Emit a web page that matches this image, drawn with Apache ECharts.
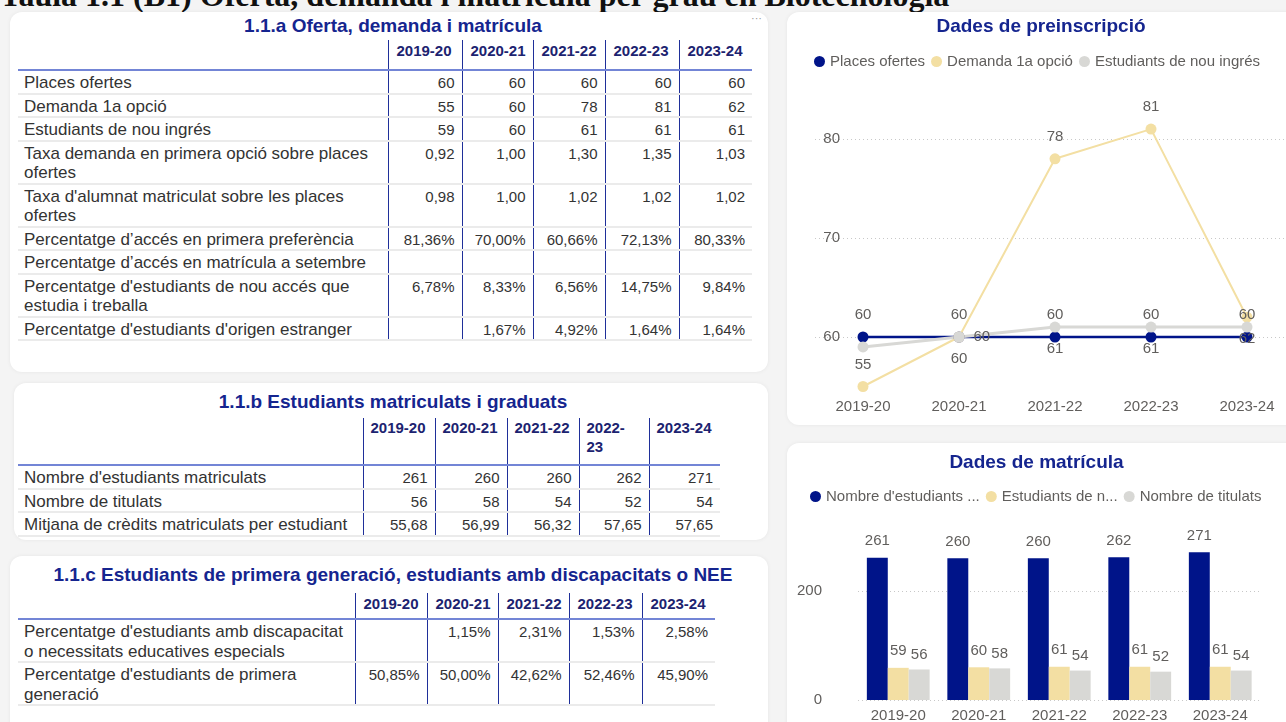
<!DOCTYPE html>
<html>
<head>
<meta charset="utf-8">
<script src="https://cdn.jsdelivr.net/npm/echarts@6/dist/echarts.min.js"></script>
<style>
  body { margin:0; width:1286px; height:722px; overflow:hidden; background:#f4f4f4; position:relative; font-family:'Liberation Sans', Arial, sans-serif; }
  .heading { position:absolute; left:0; top:-21px; font-family:'Liberation Serif', serif; font-weight:bold; font-size:32px; line-height:32px; color:#111; white-space:nowrap; }
  .panel { position:absolute; background:#fff; border-radius:12px; box-shadow:0 0 4px rgba(0,0,0,0.06); }
  .ttl { position:absolute; left:18px; width:750px; text-align:center; font-weight:bold; font-size:19px; line-height:22px; color:#15258f; }
  .dots { position:absolute; left:751px; top:12px; font-size:11px; color:#999; }
  table { position:absolute; border-collapse:collapse; table-layout:fixed; color:#333; }
  th { font-size:15px; font-weight:bold; color:#1c2370; text-align:left; vertical-align:top; line-height:19px; border-bottom:2px solid #7385d6; white-space:nowrap; }
  td { font-size:15px; line-height:19.5px; padding:2px 7px 0 6px; vertical-align:top; text-align:right; border-bottom:2px solid #ebebeb; white-space:nowrap; }
  td.lbl { font-size:17px; text-align:left; white-space:normal; }
  th + th, td + td { border-left:1px solid #1f2f99; }
  #lineChart, #barChart { position:absolute; }
</style>
</head>
<body>
<div class="heading">Taula 1.1 (B1) Oferta, demanda i matrícula per grau en Biotecnologia</div>

<div class="panel" style="left:10px;top:12px;width:758px;height:360px"></div>
<div class="panel" style="left:14px;top:383px;width:754px;height:157px"></div>
<div class="panel" style="left:10px;top:556px;width:758px;height:180px"></div>
<div class="panel" style="left:787px;top:12px;width:520px;height:413px"></div>
<div class="panel" style="left:787px;top:443px;width:520px;height:300px"></div>

<div class="ttl" style="top:15px">1.1.a Oferta, demanda i matrícula</div>
<div class="dots">&middot;&middot;&middot;</div>
<div class="ttl" style="top:391px">1.1.b Estudiants matriculats i graduats</div>
<div class="ttl" style="top:564px">1.1.c Estudiants de primera generació, estudiants amb discapacitats o NEE</div>

<div id="tables"></div>
<div id="lineChart" style="left:787px;top:12px;width:508px;height:413px"></div>
<div id="barChart" style="left:787px;top:443px;width:499px;height:279px"></div>

<script>
// dades
const years = ['2019-20', '2020-21', '2021-22', '2022-23', '2023-24'];

const placesOfertes = [60, 60, 60, 60, 60];
const demanda1a = [55, 60, 78, 81, 62];
const nouIngres = [59, 60, 61, 61, 61];
const taxaDemanda = ['0,92', '1,00', '1,30', '1,35', '1,03'];
const taxaMatriculat = ['0,98', '1,00', '1,02', '1,02', '1,02'];
const accesPrimera = ['81,36%', '70,00%', '60,66%', '72,13%', '80,33%'];
const accesSetembre = ['', '', '', '', ''];
const estudiaTreballa = ['6,78%', '8,33%', '6,56%', '14,75%', '9,84%'];
const origenEstranger = ['', '1,67%', '4,92%', '1,64%', '1,64%'];

const matriculats = [261, 260, 260, 262, 271];
const titulats = [56, 58, 54, 52, 54];
const mitjanaCredits = ['55,68', '56,99', '56,32', '57,65', '57,65'];

const discapacitat = ['', '1,15%', '2,31%', '1,53%', '2,58%'];
const primeraGeneracio = ['50,85%', '50,00%', '42,62%', '52,46%', '45,90%'];

const lineTicks = [60, 70, 80];
const barTicks = [0, 200];

// taules
function tableHtml(left, top, widths, headPad, wrapCol, rows) {
  let h = '<table style="left:' + left + 'px;top:' + top + 'px;width:' + widths.reduce((a, b) => a + b, 0) + 'px">';
  h += '<colgroup>' + widths.map(w => '<col style="width:' + w + 'px">').join('') + '</colgroup>';
  h += '<tr><th style="padding:' + headPad + '"></th>' + years.map((y, i) =>
    '<th style="padding:' + headPad + '">' + (i === wrapCol ? y.replace('-', '-<br>') : y) + '</th>').join('') + '</tr>';
  rows.forEach(r => {
    h += '<tr><td class="lbl">' + r[0] + '</td>' + r[1].map(v => '<td>' + v + '</td>').join('') + '</tr>';
  });
  return h + '</table>';
}

document.getElementById('tables').innerHTML =
  tableHtml(18, 40, [370, 74, 71, 72, 74, 73], '1px 2px 9px 8px', -1, [
    ['Places ofertes', placesOfertes],
    ['Demanda 1a opció', demanda1a],
    ['Estudiants de nou ingrés', nouIngres],
    ['Taxa demanda en primera opció sobre places ofertes', taxaDemanda],
    ["Taxa d'alumnat matriculat sobre les places ofertes", taxaMatriculat],
    ['Percentatge d’accés en primera preferència', accesPrimera],
    ['Percentatge d’accés en matrícula a setembre', accesSetembre],
    ["Percentatge d'estudiants de nou accés que estudia i treballa", estudiaTreballa],
    ["Percentatge d'estudiants d'origen estranger", origenEstranger]
  ]) +
  tableHtml(18, 418, [345, 72, 72, 72, 70, 71], '0 2px 8px 7px', 3, [
    ["Nombre d'estudiants matriculats", matriculats],
    ['Nombre de titulats', titulats],
    ['Mitjana de crèdits matriculats per estudiant', mitjanaCredits]
  ]) +
  tableHtml(18, 593, [337, 72, 71, 71, 73, 73], '1px 2px 5px 8px', -1, [
    ["Percentatge d'estudiants amb discapacitat o necessitats educatives especials", discapacitat],
    ["Percentatge d'estudiants de primera generació", primeraGeneracio]
  ]);

// gràfics
const navy = '#001489';
const yellow = '#f3dfa3';
const grey = '#d8d8d5';
const labelGrey = '#605e5c';
const titleColor = '#15258f';

const demandaLabelPos = ['top', 'right', 'top', 'top', 'bottom'];
const nouLabelShow = [false, true, true, true, false];

const lineChart = echarts.init(document.getElementById('lineChart'));
lineChart.setOption({
  textStyle: { fontFamily: 'Liberation Sans' },
  title: {
    text: 'Dades de preinscripció', left: 'center', top: 0,
    textStyle: { color: titleColor, fontSize: 19, fontWeight: 'bold' }
  },
  legend: {
    left: 22, top: 37, icon: 'circle', itemWidth: 11, itemHeight: 11, itemGap: 6,
    textStyle: { color: labelGrey, fontSize: 15 }
  },
  grid: { left: 28, right: 0, top: 97.3, bottom: 28.6, outerBoundsMode: 'none' },
  xAxis: {
    type: 'category', data: years, boundaryGap: true,
    axisLine: { show: false }, axisTick: { show: false },
    axisLabel: { color: labelGrey, fontSize: 15, margin: 3 }
  },
  yAxis: {
    type: 'value', min: 54, max: 83, offset: -33,
    axisLine: { show: false },
    axisTick: { show: false, customValues: lineTicks },
    axisLabel: { color: labelGrey, fontSize: 15, margin: 8, customValues: lineTicks },
    splitLine: { lineStyle: { color: '#c8c8c8', type: [1, 3] } }
  },
  series: [
    {
      name: 'Places ofertes', type: 'line', data: placesOfertes, color: navy,
      symbol: 'circle', symbolSize: 11, lineStyle: { width: 2.5 },
      label: { show: true, position: 'top', distance: 9, color: labelGrey, fontSize: 15 }
    },
    {
      name: 'Demanda 1a opció', type: 'line', color: yellow,
      data: demanda1a.map((v, i) => ({ value: v, label: { position: demandaLabelPos[i] } })),
      symbol: 'circle', symbolSize: 11, lineStyle: { width: 2 },
      label: { show: true, distance: 9, color: labelGrey, fontSize: 15 }
    },
    {
      name: 'Estudiants de nou ingrés', type: 'line', color: grey,
      data: nouIngres.map((v, i) => ({ value: v, label: { show: nouLabelShow[i] } })),
      symbol: 'circle', symbolSize: 11, lineStyle: { width: 3 },
      label: { show: true, position: 'bottom', distance: 9, color: labelGrey, fontSize: 15 }
    }
  ]
});

const barChart = echarts.init(document.getElementById('barChart'));
barChart.setOption({
  textStyle: { fontFamily: 'Liberation Sans' },
  title: {
    text: 'Dades de matrícula', left: 'center', top: 5,
    textStyle: { color: titleColor, fontSize: 19, fontWeight: 'bold' }
  },
  legend: {
    left: 18, top: 41, icon: 'circle', itemWidth: 11, itemHeight: 11, itemGap: 6,
    textStyle: { color: labelGrey, fontSize: 15 },
    data: [
      { name: "Nombre d'estudiants matriculats", textStyle: { width: 162, overflow: 'truncate', ellipsis: ' ...' } },
      { name: 'Estudiants de nou ingrés', textStyle: { width: 121, overflow: 'truncate', ellipsis: '...' } },
      { name: 'Nombre de titulats' }
    ]
  },
  grid: { left: 71, right: 25.5, top: 93.5, bottom: 22, outerBoundsMode: 'none' },
  xAxis: {
    type: 'category', data: years,
    axisLine: { show: false }, axisTick: { show: false },
    axisLabel: { color: labelGrey, fontSize: 15, margin: 8 }
  },
  yAxis: {
    type: 'value', min: 0, max: 300, offset: 28,
    axisLine: { show: false },
    axisTick: { show: false, customValues: barTicks },
    axisLabel: { color: labelGrey, fontSize: 15, margin: 8, customValues: barTicks },
    splitLine: { lineStyle: { color: '#c8c8c8', type: [1, 3] } }
  },
  series: [
    { name: "Nombre d'estudiants matriculats", type: 'bar', data: matriculats, color: navy,
      barGap: '0%', barCategoryGap: '22%',
      label: { show: true, position: 'top', distance: 9, color: labelGrey, fontSize: 15 } },
    { name: 'Estudiants de nou ingrés', type: 'bar', data: nouIngres, color: yellow,
      label: { show: true, position: 'top', distance: 9, color: labelGrey, fontSize: 15 } },
    { name: 'Nombre de titulats', type: 'bar', data: titulats, color: grey,
      label: { show: true, position: 'top', distance: 7, color: labelGrey, fontSize: 15 } }
  ]
});
</script>
</body>
</html>
